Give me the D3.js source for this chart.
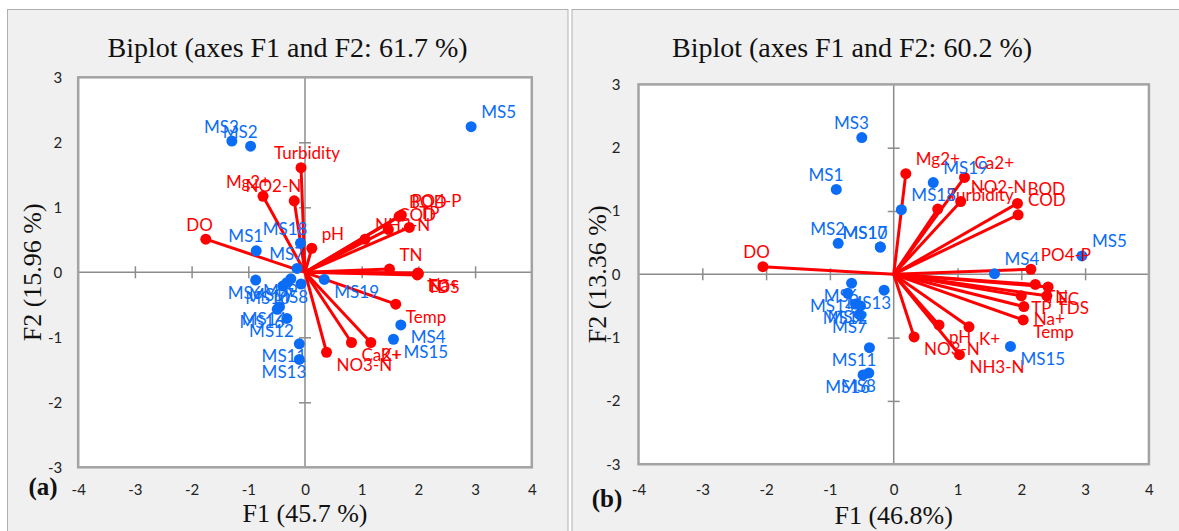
<!DOCTYPE html>
<html>
<head>
<meta charset="utf-8">
<script src="https://cdn.jsdelivr.net/npm/d3@7"></script>
<style>
  body { margin: 0; background: #fff; }
</style>
</head>
<body>
<svg id="chart" width="1179" height="531"></svg>
<script>
// --- data ---
const obsNames = ['MS1', 'MS2', 'MS3', 'MS4', 'MS5', 'MS6', 'MS7', 'MS8', 'MS9', 'MS10',
  'MS11', 'MS12', 'MS13', 'MS14', 'MS15', 'MS16', 'MS17', 'MS18', 'MS19'];

// panel (a)
const obsA_F1 = [-0.86, -0.96, -1.29, 1.69, 2.93, -0.87, -0.14, -0.07, -0.25, -0.39,
  -0.10, -0.32, -0.10, -0.45, 1.56, -0.49, -0.32, -0.08, 0.34];
const obsA_F2 = [0.33, 1.94, 2.02, -0.81, 2.24, -0.12, 0.06, -0.18, -0.10, -0.21,
  -1.10, -0.71, -1.34, -0.53, -1.03, -0.57, -0.16, 0.45, -0.11];
const varNamesA = ['Turbidity', 'Mg2+', 'NO2-N', 'DO', 'pH', 'PO4-P', 'BOD', 'COD', 'NH3-N',
  'TP', 'TN', 'Na+', 'TDS', 'EC', 'Temp', 'Ca2+', 'K+', 'NO3-N'];
const varA_F1 = [-0.07, -0.74, -0.19, -1.75, 0.12, 1.70, 1.66, 1.47, 1.06,
  1.84, 1.49, 1.99, 1.98, 2.00, 1.60, 0.82, 1.16, 0.38];
const varA_F2 = [1.61, 1.17, 1.10, 0.51, 0.37, 0.88, 0.86, 0.66, 0.51,
  0.69, 0.05, -0.01, -0.04, -0.02, -0.49, -1.08, -1.08, -1.23];

// panel (b)
const obsB_F1 = [-0.90, -0.87, -0.50, 1.58, 2.95, -0.66, -0.53, -0.39, -0.60, -0.21,
  -0.38, -0.52, -0.15, -0.72, 1.83, -0.48, -0.21, 0.12, 0.62];
const obsB_F2 = [1.34, 0.49, 2.16, 0.01, 0.29, -0.14, -0.64, -1.56, -0.47, 0.43,
  -1.16, -0.50, -0.25, -0.30, -1.14, -1.59, 0.43, 1.02, 1.45];
const varNamesB = ['Mg2+', 'Ca2+', 'Turbidity', 'NO2-N', 'BOD', 'COD', 'PO4-P', 'TN', 'EC',
  'TDS', 'TP', 'Na+', 'Temp', 'pH', 'K+', 'NO3-N', 'NH3-N', 'DO'];
const varB_F1 = [0.19, 1.11, 0.69, 1.05, 1.94, 1.95, 2.15, 2.22, 2.42,
  2.40, 2.00, 2.04, 2.03, 0.71, 1.18, 0.32, 1.03, -2.05];
const varB_F2 = [1.59, 1.53, 1.03, 1.15, 1.12, 0.94, 0.08, -0.16, -0.20,
  -0.34, -0.34, -0.51, -0.72, -0.80, -0.83, -0.99, -1.27, 0.12];

const ticksF1 = [-4, -3, -2, -1, 0, 1, 2, 3, 4];
const ticksF2 = [-3, -2, -1, 0, 1, 2, 3];

// label side for each point (layout only)
const obsSideA = { MS1: 'nw', MS2: 'nw', MS3: 'nw', MS4: 'se', MS5: 'ne', MS6: 'sw', MS7: 'nw',
  MS8: 'sw', MS9: 'sw', MS10: 'sw', MS11: 'sw', MS12: 'sw', MS13: 'sw', MS14: 'sw',
  MS15: 'se', MS16: 'sw', MS17: 'sw', MS18: 'nw', MS19: 'se' };
const varSideA = { 'Turbidity': 'n', 'Mg2+': 'nw', 'NO2-N': 'nw', 'DO': 'nw', 'pH': 'ne',
  'PO4-P': 'ne', 'BOD': 'ne', 'COD': 'ne', 'NH3-N': 'ne', 'TP': 'ne', 'TN': 'ne',
  'Na+': 'se', 'TDS': 'se', 'EC': 'se', 'Temp': 'se', 'Ca2+': 'se', 'K+': 'se', 'NO3-N': 'se' };
const obsSideB = { MS1: 'nw', MS2: 'nw', MS3: 'nw', MS4: 'ne', MS5: 'ne', MS6: 'sw', MS7: 'sw',
  MS8: 'sw', MS9: 'sw', MS10: 'nw', MS11: 'sw', MS12: 'sw', MS13: 'sw', MS14: 'sw',
  MS15: 'se', MS16: 'sw', MS17: 'nw', MS18: 'ne', MS19: 'ne' };
const varSideB = { 'Mg2+': 'ne', 'Ca2+': 'ne', 'Turbidity': 'ne', 'NO2-N': 'ne', 'BOD': 'ne',
  'COD': 'ne', 'PO4-P': 'ne', 'TN': 'se', 'EC': 'se', 'TDS': 'se', 'TP': 'se', 'Na+': 'se',
  'Temp': 'se', 'pH': 'se', 'K+': 'se', 'NO3-N': 'se', 'NH3-N': 'se', 'DO': 'nw' };

const sides = {
  ne: { dx: 10, dy: -15, anchor: 'start' },
  nw: { dx: 7, dy: -15, anchor: 'end' },
  se: { dx: 10, dy: 12, anchor: 'start' },
  sw: { dx: 7, dy: 12, anchor: 'end' },
  n: { dx: 6, dy: -15, anchor: 'middle' }
};

const red = '#ff0000';
const blue = '#0b6cf5';
const labelFont = 'Lato, "Open Sans", sans-serif';
const serif = '"Liberation Serif", "DejaVu Serif", serif';

const panels = [
  {
    box: [7.5, 9.5, 560.5, 530], frame: { l: 78.2, r: 531.8, t: 77.3, b: 467.3 },
    title: 'Biplot (axes F1 and F2: 61.7 %)', xTitle: 'F1 (45.7 %)', yTitle: 'F2 (15.96 %)',
    letter: '(a)', letterX: 43, letterY: 486, yTitleX: 32, xTitleY: 513, xPad: 17, yPad: 16,
    obsF1: obsA_F1, obsF2: obsA_F2, obsSide: obsSideA,
    varNames: varNamesA, varF1: varA_F1, varF2: varA_F2, varSide: varSideA
  },
  {
    box: [572, 9.5, 620, 530], frame: { l: 638.5, r: 1148.9, t: 84.4, b: 464.2 },
    title: 'Biplot (axes F1 and F2: 60.2 %)', xTitle: 'F1 (46.8%)', yTitle: 'F2 (13.36 %)',
    letter: '(b)', letterX: 607, letterY: 498, yTitleX: 597, xTitleY: 515, xPad: 20, yPad: 18,
    obsF1: obsB_F1, obsF2: obsB_F2, obsSide: obsSideB,
    varNames: varNamesB, varF1: varB_F1, varF2: varB_F2, varSide: varSideB
  }
];

const svg = d3.select('#chart');

panels.forEach((p) => {
  const g = svg.append('g');
  const f = p.frame;

  g.append('rect')
    .attr('x', p.box[0]).attr('y', p.box[1])
    .attr('width', p.box[2]).attr('height', p.box[3])
    .attr('fill', '#f0f0f0')
    .attr('stroke', '#b0b0b0')
    .attr('stroke-width', 1);

  const x = d3.scaleLinear().domain([-4, 4]).range([f.l, f.r]);
  const y = d3.scaleLinear().domain([-3, 3]).range([f.b, f.t]);
  const cx = (f.l + f.r) / 2;

  g.append('rect')
    .attr('x', f.l).attr('y', f.t)
    .attr('width', f.r - f.l).attr('height', f.b - f.t)
    .attr('fill', '#fff');

  // zero lines with crossing tick marks
  const inner = (t) => t.filter((d) => d !== 0 && d !== t[0] && d !== t[t.length - 1]);
  g.append('line')
    .attr('x1', f.l).attr('x2', f.r).attr('y1', y(0)).attr('y2', y(0))
    .attr('stroke', '#8c8c8c').attr('stroke-width', 1.5);
  g.append('line')
    .attr('x1', x(0)).attr('x2', x(0)).attr('y1', f.t).attr('y2', f.b)
    .attr('stroke', '#8c8c8c').attr('stroke-width', 1.5);

  const xCross = g.append('g')
    .attr('transform', 'translate(0,' + (y(0) - 6) + ')')
    .call(d3.axisBottom(x).tickValues(inner(ticksF1)).tickSize(12).tickFormat(''));
  const yCross = g.append('g')
    .attr('transform', 'translate(' + (x(0) + 6) + ',0)')
    .call(d3.axisLeft(y).tickValues(inner(ticksF2)).tickSize(12).tickFormat(''));
  [xCross, yCross].forEach((a) => {
    a.select('.domain').remove();
    a.selectAll('line').attr('stroke', '#8c8c8c').attr('stroke-width', 1.5);
  });

  // tick labels outside the frame
  const xAxis = g.append('g')
    .attr('transform', 'translate(0,' + f.b + ')')
    .call(d3.axisBottom(x).tickValues(ticksF1).tickSize(0).tickPadding(p.xPad).tickFormat((d) => String(d)));
  const yAxis = g.append('g')
    .attr('transform', 'translate(' + f.l + ',0)')
    .call(d3.axisLeft(y).tickValues(ticksF2).tickSize(0).tickPadding(p.yPad).tickFormat((d) => String(d)));
  [xAxis, yAxis].forEach((a) => {
    a.select('.domain').remove();
    a.selectAll('text').style('font-family', labelFont).style('font-size', '15px').attr('fill', '#222');
  });

  // frame border
  g.append('rect')
    .attr('x', f.l).attr('y', f.t)
    .attr('width', f.r - f.l).attr('height', f.b - f.t)
    .attr('fill', 'none')
    .attr('stroke', '#a3a3a3')
    .attr('stroke-width', 2.5);

  const vars = p.varNames.map((n, i) => ({ name: n, f1: p.varF1[i], f2: p.varF2[i] }));
  const obs = obsNames.map((n, i) => ({ name: n, f1: p.obsF1[i], f2: p.obsF2[i] }));

  g.append('g').selectAll('line')
    .data(vars).enter().append('line')
    .attr('x1', x(0)).attr('y1', y(0))
    .attr('x2', (d) => x(d.f1)).attr('y2', (d) => y(d.f2))
    .attr('stroke', red).attr('stroke-width', 3);

  g.append('g').selectAll('circle')
    .data(vars).enter().append('circle')
    .attr('cx', (d) => x(d.f1)).attr('cy', (d) => y(d.f2))
    .attr('r', 5.5).attr('fill', red);

  g.append('g').selectAll('circle')
    .data(obs).enter().append('circle')
    .attr('cx', (d) => x(d.f1)).attr('cy', (d) => y(d.f2))
    .attr('r', 5.5).attr('fill', blue);

  const addLabels = (data, sideMap, color) => {
    g.append('g').selectAll('text')
      .data(data).enter().append('text')
      .attr('x', (d) => x(d.f1) + sides[sideMap[d.name]].dx)
      .attr('y', (d) => y(d.f2) + sides[sideMap[d.name]].dy)
      .attr('text-anchor', (d) => sides[sideMap[d.name]].anchor)
      .attr('dominant-baseline', 'central')
      .style('font-family', labelFont)
      .style('font-size', '17px')
      .attr('fill', color)
      .text((d) => d.name);
  };
  addLabels(vars, p.varSide, red);
  addLabels(obs, p.obsSide, blue);

  // titles
  g.append('text')
    .attr('x', p.box[0] + 280).attr('y', 47)
    .attr('text-anchor', 'middle').attr('dominant-baseline', 'central')
    .style('font-family', serif).style('font-size', '28px').attr('fill', '#111')
    .text(p.title);

  g.append('text')
    .attr('x', cx).attr('y', p.xTitleY)
    .attr('text-anchor', 'middle').attr('dominant-baseline', 'central')
    .style('font-family', serif).style('font-size', '26px').attr('fill', '#111')
    .text(p.xTitle);

  g.append('text')
    .attr('transform', 'translate(' + p.yTitleX + ',' + ((f.t + f.b) / 2) + ') rotate(-90)')
    .attr('text-anchor', 'middle').attr('dominant-baseline', 'central')
    .style('font-family', serif).style('font-size', '26px').attr('fill', '#111')
    .text(p.yTitle);

  g.append('text')
    .attr('x', p.letterX).attr('y', p.letterY)
    .attr('text-anchor', 'middle').attr('dominant-baseline', 'central')
    .style('font-family', serif).style('font-size', '25px').style('font-weight', 'bold')
    .attr('fill', '#111')
    .text(p.letter);
});
</script>
</body>
</html>
